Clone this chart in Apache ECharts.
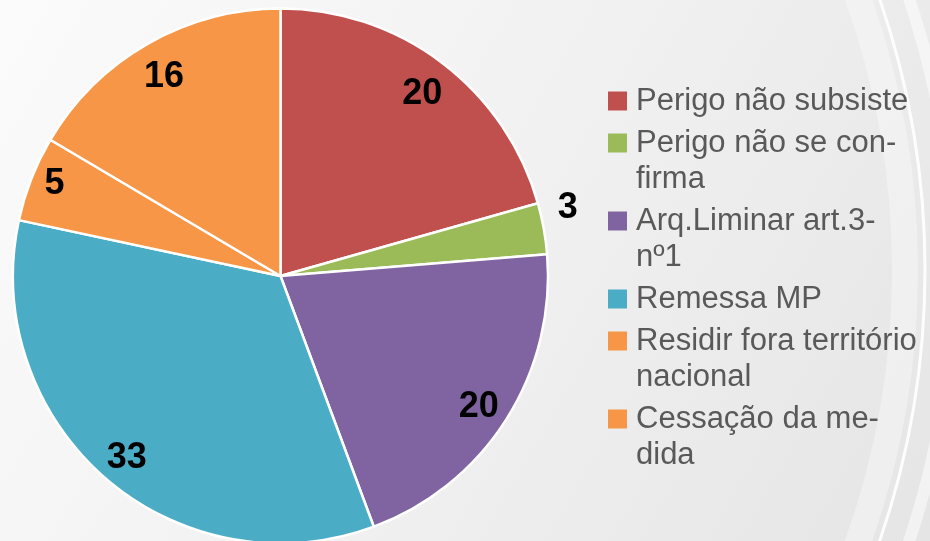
<!DOCTYPE html>
<html>
<head>
<meta charset="utf-8">
<script src="https://cdn.jsdelivr.net/npm/echarts@6/dist/echarts.min.js"></script>
<style>
  html, body { margin: 0; padding: 0; }
  #chart { width: 930px; height: 541px; }
</style>
</head>
<body>
<div id="chart"></div>
<script>
var categories = ['Perigo não subsiste', 'Perigo não se confirma', 'Arq.Liminar art.3-nº1',
                  'Remessa MP', 'Residir fora território nacional', 'Cessação da medida'];
var values = [20, 3, 20, 33, 5, 16];
// texto da legenda com as quebras de linha do original
var legendLines = [['Perigo não subsiste'], ['Perigo não se con-', 'firma'], ['Arq.Liminar art.3-', 'nº1'],
                   ['Remessa MP'], ['Residir fora território', 'nacional'], ['Cessação da me-', 'dida']];
var colors = ['#C0504D', '#9BBB59', '#8064A2', '#4BACC6', '#F79646', '#F79646'];

var font = 'Liberation Sans, Arial, sans-serif';

// padding dos rótulos [cima, direita, baixo, esquerda] para os acertar com o original
var labelPad = [[10, 0, 0, 0], [0, 0, 52, 112], [10, 0, 0, 0], [8, 0, 0, 0], [0, 14, 12, 0], [10, 0, 0, 0]];

var pieData = [];
for (var i = 0; i < categories.length; i++) {
    pieData.push({name: categories[i], value: values[i], itemStyle: {color: colors[i]}});
}

var labelRich = {};
for (var j = 0; j < labelPad.length; j++) {
    labelRich['v' + j] = {
        fontFamily: font, fontSize: 36, fontWeight: 'bold', color: '#000000',
        padding: labelPad[j]
    };
}

var rich = {
    t: {fontFamily: font, fontSize: 31, lineHeight: 36, color: '#595959'},
    g: {width: 9, lineHeight: 36},
    ind: {width: 28, lineHeight: 36}
};
for (var k = 0; k < colors.length; k++) {
    rich['s' + k] = {width: 19, height: 19, lineHeight: 36, backgroundColor: colors[k]};
}

var myChart = echarts.init(document.getElementById('chart'));
var option = {
    backgroundColor: {
        type: 'linear', x: 0, y: 0, x2: 1, y2: 1,
        colorStops: [{offset: 0, color: '#fbfbfb'}, {offset: 0.5, color: '#f1f1f1'}, {offset: 1, color: '#e5e5e5'}]
    },
    animation: false,
    graphic: [
        {type: 'circle', z: -10, silent: true, shape: {cx: 93, cy: 270, r: 812},
         style: {fill: null, stroke: 'rgba(255,255,255,0.35)', lineWidth: 26}},
        {type: 'circle', z: -10, silent: true, shape: {cx: 93, cy: 270, r: 832},
         style: {fill: null, stroke: 'rgba(255,255,255,0.9)', lineWidth: 3}},
        {type: 'circle', z: -10, silent: true, shape: {cx: 93, cy: 270, r: 860},
         style: {fill: null, stroke: 'rgba(255,255,255,0.5)', lineWidth: 12}}
    ],
    legend: {
        orient: 'vertical',
        left: 598,
        top: 78,
        itemGap: 6,
        itemWidth: 0,
        itemHeight: 0,
        icon: 'none',
        selectedMode: false,
        data: categories,
        textStyle: {
            fontFamily: font,
            fontSize: 31,
            lineHeight: 36,
            color: '#595959',
            rich: rich
        },
        formatter: function (name) {
            var i = categories.indexOf(name);
            var lines = legendLines[i];
            var s = '{s' + i + '|}{g|}{t|' + lines[0] + '}';
            if (lines[1]) {
                s += '\n{ind|}{t|' + lines[1] + '}';
            }
            return s;
        }
    },
    series: [
        {
            type: 'pie',
            center: [280.5, 276],
            radius: [0, 267.5],
            startAngle: 90,
            data: pieData,
            label: {show: false},
            labelLine: {show: false},
            itemStyle: {borderColor: '#ffffff', borderWidth: 2.5},
            emphasis: {disabled: true}
        },
        {
            // série só para os rótulos
            type: 'pie',
            center: [280.5, 276],
            radius: [196, 268],
            startAngle: 90,
            silent: true,
            data: pieData.map(function (d) { return {name: d.name, value: d.value}; }),
            itemStyle: {color: 'transparent', borderWidth: 0},
            label: {
                show: true,
                position: 'inside',
                formatter: function (p) {
                    return '{v' + p.dataIndex + '|' + p.value + '}';
                },
                rich: labelRich
            },
            labelLine: {show: false},
            emphasis: {disabled: true}
        }
    ]
};
myChart.setOption(option);
</script>
</body>
</html>
